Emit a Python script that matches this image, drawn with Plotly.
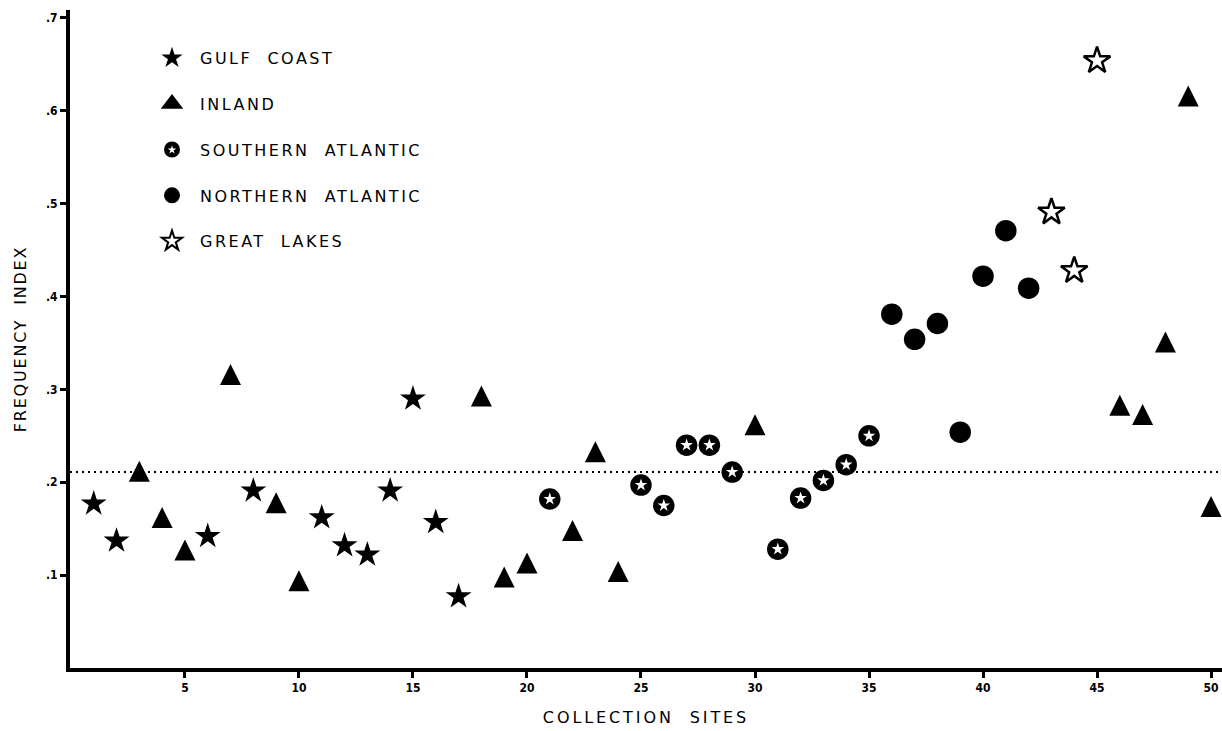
import plotly.graph_objects as go

# ---- data ----
sites_gulf = [1, 2, 6, 8, 11, 12, 13, 14, 15, 16, 17]
index_gulf = [0.177, 0.137, 0.142, 0.191, 0.162, 0.132, 0.122, 0.191, 0.290, 0.157, 0.077]

sites_inland = [3, 4, 5, 7, 9, 10, 18, 19, 20, 22, 23, 24, 30, 46, 47, 48, 49, 50]
index_inland = [0.212, 0.162, 0.127, 0.316, 0.178, 0.094, 0.293, 0.098, 0.113, 0.148,
                0.233, 0.104, 0.262, 0.283, 0.273, 0.351, 0.616, 0.174]

sites_south = [21, 25, 26, 27, 28, 29, 31, 32, 33, 34, 35]
index_south = [0.182, 0.197, 0.175, 0.240, 0.240, 0.211, 0.128, 0.183, 0.202, 0.219, 0.250]

sites_north = [36, 37, 38, 39, 40, 41, 42]
index_north = [0.381, 0.354, 0.371, 0.254, 0.422, 0.471, 0.409]

sites_lakes = [43, 44, 45]
index_lakes = [0.491, 0.428, 0.654]

mean_index = 0.211

x_tick_vals = [5, 10, 15, 20, 25, 30, 35, 40, 45, 50]
y_tick_vals = [0.1, 0.2, 0.3, 0.4, 0.5, 0.6, 0.7]
y_tick_text = [".1", ".2", ".3", ".4", ".5", ".6", ".7"]

legend_names = ["GULF\u00a0 COAST", "INLAND", "SOUTHERN\u00a0 ATLANTIC",
                "NORTHERN\u00a0 ATLANTIC", "GREAT\u00a0 LAKES"]

# ---- styling ----
W, H = 1222, 731
ML, MR, MT, MB = 70, 0, 10, 63
PW, PH = W - ML - MR, H - MT - MB
TEXT_FONT = "DejaVu Sans, Verdana, sans-serif"
TICK_FONT = "Liberation Sans Narrow, DejaVu Sans Condensed, Arial Narrow, sans-serif"


def spaced(s, ls):
    return '<span style="letter-spacing:%spx">%s</span>' % (ls, s)


fig = go.Figure()

# ---- data marks ----
fig.add_trace(go.Scatter(
    x=sites_gulf, y=index_gulf, mode="markers", showlegend=False,
    cliponaxis=False, hoverinfo="x+y",
    marker=dict(symbol="star", size=19.5, color="black")))

fig.add_trace(go.Scatter(
    x=sites_inland, y=index_inland, mode="markers", showlegend=False,
    cliponaxis=False, hoverinfo="x+y",
    marker=dict(symbol="arrow-down", angle=180, standoff=10.5, size=21, color="black")))

fig.add_trace(go.Scatter(
    x=sites_south, y=index_south, mode="markers", showlegend=False,
    cliponaxis=False, hoverinfo="x+y",
    marker=dict(symbol="circle", size=21.5, color="black")))

fig.add_trace(go.Scatter(
    x=sites_north, y=index_north, mode="markers", showlegend=False,
    cliponaxis=False, hoverinfo="x+y",
    marker=dict(symbol="circle", size=21.5, color="black")))

fig.add_trace(go.Scatter(
    x=sites_lakes, y=index_lakes, mode="markers", showlegend=False,
    cliponaxis=False, hoverinfo="x+y",
    marker=dict(symbol="star-open", size=20, color="black",
                line=dict(width=2.5, color="black"))))

# white star inside the southern-atlantic circles
fig.add_trace(go.Scatter(
    x=sites_south, y=index_south, mode="markers", showlegend=False,
    cliponaxis=False, hoverinfo="skip",
    marker=dict(symbol="star", size=9.5, color="white")))

# ---- legend entries ----
legend_markers = [
    dict(symbol="star", size=16, color="black"),
    dict(symbol="triangle-up", size=16, color="black", line=dict(width=2, color="black")),
    dict(symbol="circle", size=16, color="black"),
    dict(symbol="circle", size=16, color="black"),
    dict(symbol="star-open", size=15, color="black", line=dict(width=2, color="black")),
]
for i, (nm, mk) in enumerate(zip(legend_names, legend_markers)):
    fig.add_trace(go.Scatter(
        x=[None], y=[None], mode="markers", name=spaced(nm, 2.5),
        legendgroup="g%d" % i, legend="legend", marker=mk, hoverinfo="skip"))

# white star drawn over the southern-atlantic legend circle
fig.add_trace(go.Scatter(
    x=[None], y=[None], mode="markers", name=" ", legend="legend2",
    marker=dict(symbol="star", size=6.5, color="white"), hoverinfo="skip"))

fig.add_shape(type="line", xref="paper", x0=0, x1=1, yref="y",
              y0=mean_index, y1=mean_index, layer="below",
              line=dict(color="black", width=2, dash="2px,4px"))

ROW_PITCH = 46
LEG_X = (144 - ML) / PW
LEG_Y = (H - MB - 41) / PH

fig.update_layout(
    width=W, height=H,
    margin=dict(l=ML, r=MR, t=MT, b=MB, pad=0),
    paper_bgcolor="white", plot_bgcolor="white",
    font=dict(family=TEXT_FONT, color="black"),
    showlegend=True,
    legend=dict(x=LEG_X, y=LEG_Y,
                xanchor="left", yanchor="top", bgcolor="rgba(0,0,0,0)",
                font=dict(family=TEXT_FONT, size=16, color="black"),
                itemwidth=46, tracegroupgap=ROW_PITCH - 24, traceorder="grouped"),
    legend2=dict(x=LEG_X, y=LEG_Y - 2 * ROW_PITCH / PH,
                 xanchor="left", yanchor="top", bgcolor="rgba(0,0,0,0)",
                 font=dict(family=TEXT_FONT, size=16, color="black"),
                 itemwidth=46),
    xaxis=dict(range=[-0.04, 50.48], tickvals=x_tick_vals, ticks="outside",
               ticklen=6, tickwidth=2.5, tickcolor="black",
               showline=True, linewidth=4, linecolor="black",
               showgrid=False, zeroline=False, automargin=False,
               tickfont=dict(family=TICK_FONT, size=12, color="black", weight="bold"),
               title=dict(text=spaced("COLLECTION\u00a0 SITES", 2.9), standoff=18,
                          font=dict(family=TEXT_FONT, size=16, color="black"))),
    yaxis=dict(range=[0, 0.7086], tickvals=y_tick_vals, ticktext=y_tick_text,
               ticks="outside", ticklen=6, tickwidth=2.5, tickcolor="black",
               showline=True, linewidth=4, linecolor="black",
               showgrid=False, zeroline=False, automargin=False,
               tickfont=dict(family=TICK_FONT, size=12, color="black", weight="bold"),
               title=dict(text=spaced("FREQUENCY\u00a0 INDEX", 1.8), standoff=16,
                          font=dict(family=TEXT_FONT, size=16, color="black"))),
)

fig.write_html("out.html", config={"displayModeBar": False},
               post_script="document.body.style.margin='0';")
